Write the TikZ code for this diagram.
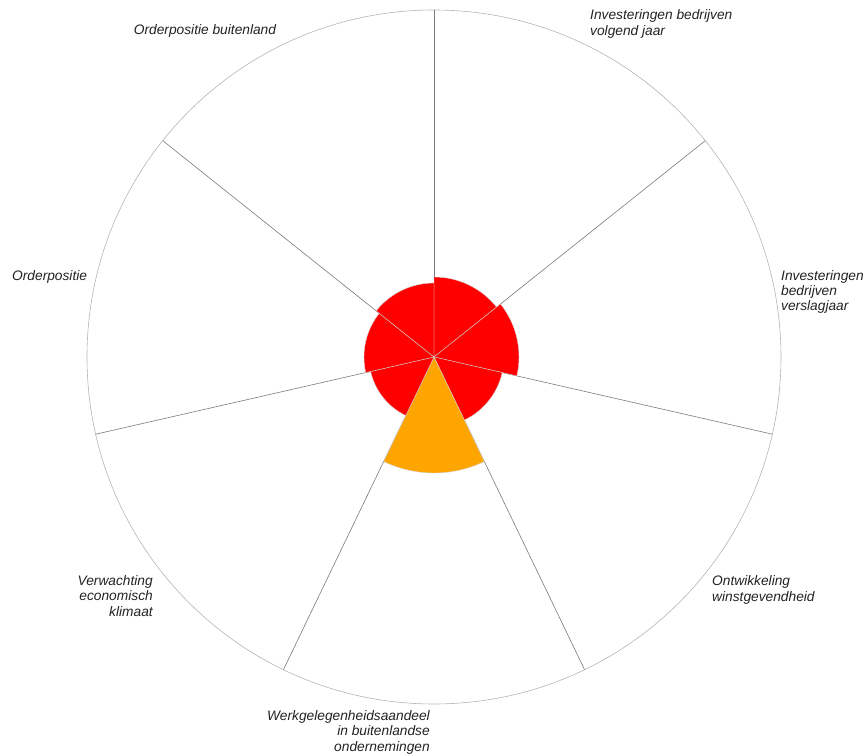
\documentclass[tikz,border=0pt]{standalone}
\usepackage{fontspec}
\setmainfont{Liberation Sans}
\definecolor{spokegray}{HTML}{7A7A7A}
\definecolor{rimgray}{HTML}{B4B4B4}
\definecolor{labeltext}{HTML}{222222}
\definecolor{wedgered}{HTML}{FF0000}
\definecolor{wedgeorange}{HTML}{FFA500}
\tikzset{label text/.style={inner sep=0pt, text=labeltext, font=\fontsize{13.8}{15.5}\selectfont\itshape}}

\begin{document}
\begin{tikzpicture}[x=1bp,y=1bp]
			\useasboundingbox (-434,-398) rectangle (432,357);
			% Define coordinates
			\coordinate (c) at (0,0);
			\foreach \i in {1,...,7} {
				\coordinate (s\i) at ({90-(\i-1)*360/7}:347);
			}
			
			% Draw outer circle and spokes
			\draw[rimgray, line width=0.6pt] (c) circle (347);
			\foreach \i in {1,...,7} {
				\draw[spokegray, line width=0.6pt] (c) -- (s\i);
			}
			
			% Draw wedges
			\foreach \i/\r/\col in {1/80/wedgered,2/85/wedgered,3/70/wedgered,4/116/wedgeorange,5/65/wedgered,6/70/wedgered,7/74/wedgered} {
				\filldraw[fill=\col, draw=gray!35, line width=0.4pt] (c) -- ({90-(\i-1)*360/7}:\r)
					arc[start angle={90-(\i-1)*360/7}, end angle={90-\i*360/7}, radius=\r] -- cycle;
			}
			
			% Add labels
			\node[label text] (obl) at (-229,326) {Orderpositie buitenland};
			\node[label text, anchor=west, align=left] (ibv) at (156,333) {Investeringen bedrijven\\volgend jaar};
			\node[label text, anchor=west, align=left] (ibs) at (347,65) {Investeringen\\bedrijven\\verslagjaar};
			\node[label text, anchor=west, align=left] (ow) at (278,-233) {Ontwikkeling\\winstgevendheid};
			\node[label text, anchor=east, align=right] (wbo) at (-4,-375) {Werkgelegenheidsaandeel\\in buitenlandse\\ondernemingen};
			\node[label text, anchor=east, align=right] (vek) at (-281,-239) {Verwachting\\economisch\\klimaat};
			\node[label text, anchor=west] (op) at (-422,80) {Orderpositie};
		\end{tikzpicture}
\end{document}
